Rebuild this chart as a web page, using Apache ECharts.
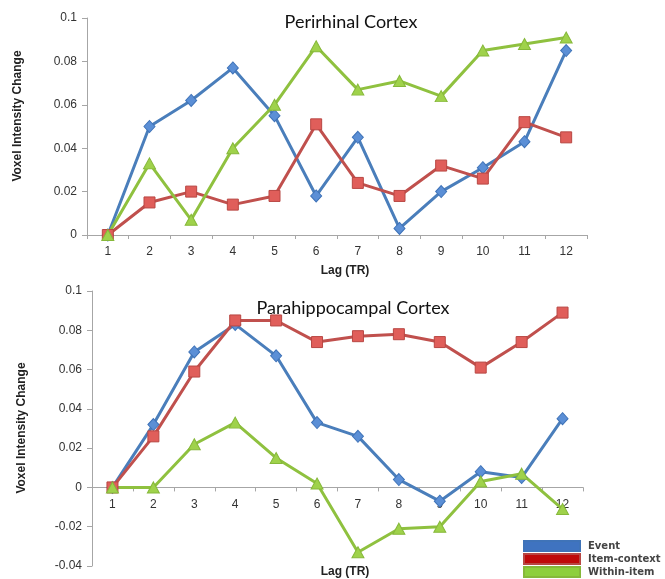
<!DOCTYPE html>
<html>
<head>
<meta charset="utf-8">
<script src="https://cdn.jsdelivr.net/npm/echarts@6/dist/echarts.min.js"></script>
<style>html,body{margin:0;padding:0;background:#fff}#c{width:665px;height:579px}</style>
</head>
<body>
<div id="c"></div>
<script>
var lags = ['1','2','3','4','5','6','7','8','9','10','11','12'];
var seriesNames = ['Event','Item-context','Within-item'];

var periEvent = [0, 0.050, 0.062, 0.077, 0.055, 0.018, 0.045, 0.003, 0.020, 0.031, 0.043, 0.085];
var periItemContext = [0, 0.015, 0.020, 0.014, 0.018, 0.051, 0.024, 0.018, 0.032, 0.026, 0.052, 0.045];
var periWithinItem = [0, 0.033, 0.007, 0.040, 0.060, 0.087, 0.067, 0.071, 0.064, 0.085, 0.088, 0.091];

var paraEvent = [0, 0.032, 0.069, 0.083, 0.067, 0.033, 0.026, 0.004, -0.007, 0.008, 0.005, 0.035];
var paraItemContext = [0, 0.026, 0.059, 0.085, 0.085, 0.074, 0.077, 0.078, 0.074, 0.061, 0.074, 0.089];
var paraWithinItem = [0, 0, 0.022, 0.033, 0.015, 0.002, -0.033, -0.021, -0.020, 0.003, 0.007, -0.011];

var topTicks = [0, 0.02, 0.04, 0.06, 0.08, 0.1];
var bottomTicks = [-0.04, -0.02, 0, 0.02, 0.04, 0.06, 0.08, 0.1];

var colors = {
  'Event': {line: '#4a7ebb', fill: '#5b8fd6', border: '#3f73b8', symbol: 'diamond', size: [11, 12]},
  'Item-context': {line: '#c0504d', fill: '#e05e5a', border: '#b84743', symbol: 'rect', size: [11, 11]},
  'Within-item': {line: '#8fc13f', fill: '#9fd24b', border: '#86b83a', symbol: 'triangle', size: [12, 11]}
};
var legendColors = {'Event': '#3f73c0', 'Item-context': '#bf0a0a', 'Within-item': '#8dcf3c'};
var legendTops = [540, 553, 566];

var axisGray = '#a6a6a6';
var labelColor = '#333';

var grids = [
  {left: 87, top: 18, width: 500, height: 217},
  {left: 92, top: 291, width: 491, height: 275}
];
// bottom grid: x axis sits at value 0
var bottomZeroOffset = -grids[1].height * (0 - bottomTicks[0]) / (bottomTicks[bottomTicks.length - 1] - bottomTicks[0]);

function mkSeries(name, data, idx) {
  var c = colors[name];
  return {
    name: name, type: 'line', data: data, xAxisIndex: idx, yAxisIndex: idx,
    symbol: c.symbol, symbolSize: c.size, showAllSymbol: true,
    lineStyle: {color: c.line, width: 3},
    itemStyle: {color: c.fill, borderColor: c.border, borderWidth: 1},
    animation: false
  };
}

function yAxis(idx, ticks) {
  return {
    type: 'value', gridIndex: idx,
    min: ticks[0], max: ticks[ticks.length - 1], interval: 0.02,
    axisLine: {show: true, lineStyle: {color: axisGray, width: 1}},
    axisTick: {show: true, length: 5, inside: false, lineStyle: {color: axisGray}},
    splitLine: {show: false},
    axisLabel: {color: labelColor, fontSize: 12, fontFamily: 'Liberation Sans', margin: 10,
      formatter: function (v) { return String(Math.round(v * 1000) / 1000); }}
  };
}
function xAxis(idx, offset) {
  return {
    type: 'category', gridIndex: idx, data: lags, boundaryGap: true, position: 'bottom', offset: offset,
    axisLine: {show: true, onZero: false, lineStyle: {color: axisGray, width: 1}},
    axisTick: {show: true, length: 4, lineStyle: {color: axisGray}},
    axisLabel: {color: labelColor, fontSize: 12, fontFamily: 'Liberation Sans', margin: 11}
  };
}

var chart = echarts.init(document.getElementById('c'), null, {renderer: 'canvas'});
chart.setOption({
  backgroundColor: '#fff',
  animation: false,
  grid: grids,
  xAxis: [xAxis(0, 0), xAxis(1, bottomZeroOffset)],
  yAxis: [yAxis(0, topTicks), yAxis(1, bottomTicks)],
  title: [
    {text: 'Perirhinal Cortex', left: 346, top: 8, textAlign: 'center',
      textStyle: {fontFamily: 'Lato', fontWeight: 'normal', fontSize: 18, color: '#111'}},
    {text: 'Parahippocampal Cortex', left: 348, top: 294, textAlign: 'center',
      textStyle: {fontFamily: 'Lato', fontWeight: 'normal', fontSize: 18, color: '#111'}}
  ],
  legend: seriesNames.map(function (n, i) {
    return {
      orient: 'vertical', left: 523, top: legendTops[i], padding: 0, itemWidth: 56, itemHeight: 10,
      icon: 'rect', selectedMode: false,
      textStyle: {fontSize: 10, fontWeight: 'bold', fontFamily: 'DejaVu Sans', color: '#444', padding: [0, 0, 0, 3]},
      data: [{name: n, itemStyle: {color: legendColors[n]}}]
    };
  }),
  graphic: [
    {type: 'text', x: 18, y: 116, rotation: Math.PI / 2,
      style: {text: 'Voxel Intensity Change', font: 'bold 12px "Liberation Sans"', fill: '#222', textAlign: 'center', textVerticalAlign: 'middle'}},
    {type: 'text', x: 22, y: 428, rotation: Math.PI / 2,
      style: {text: 'Voxel Intensity Change', font: 'bold 12px "Liberation Sans"', fill: '#222', textAlign: 'center', textVerticalAlign: 'middle'}},
    {type: 'text', x: 345, y: 271,
      style: {text: 'Lag (TR)', font: 'bold 12px "Liberation Sans"', fill: '#222', textAlign: 'center', textVerticalAlign: 'middle'}},
    {type: 'text', x: 345, y: 572,
      style: {text: 'Lag (TR)', font: 'bold 12px "Liberation Sans"', fill: '#222', textAlign: 'center', textVerticalAlign: 'middle'}}
  ],
  series: [
    mkSeries('Event', periEvent, 0),
    mkSeries('Item-context', periItemContext, 0),
    mkSeries('Within-item', periWithinItem, 0),
    mkSeries('Event', paraEvent, 1),
    mkSeries('Item-context', paraItemContext, 1),
    mkSeries('Within-item', paraWithinItem, 1)
  ]
});
</script>
</body>
</html>
